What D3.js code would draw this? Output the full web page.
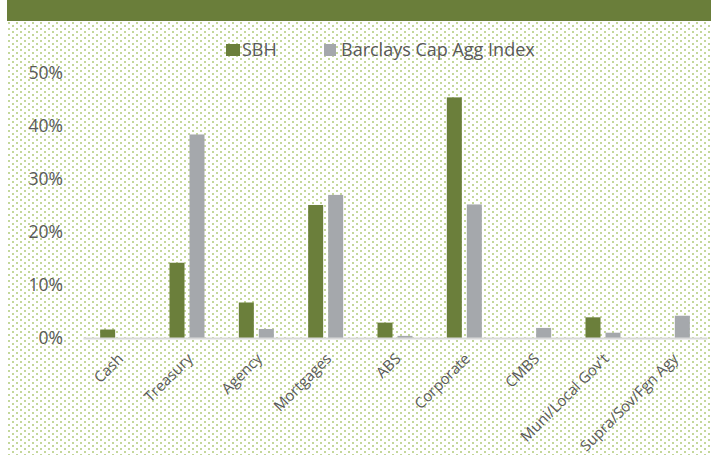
<!DOCTYPE html>
<html><head><meta charset="utf-8">
<script src="https://cdn.jsdelivr.net/npm/d3@7"></script>
<style>html,body{margin:0;padding:0;background:#fff;}svg{display:block;}</style>
</head><body>
<script>
const categories = ["Cash","Treasury","Agency","Mortgages","ABS","Corporate","CMBS","Muni/Local Gov't","Supra/Sov/Fgn Agy"];
const seriesNames = ["SBH","Barclays Cap Agg Index"];
const sbh = [1.6,14.2,6.7,25.1,2.9,45.4,0,3.9,0];
const barclays = [0,38.4,1.7,27.0,0.4,25.2,1.9,1.0,4.2];
const yTicks = [0,10,20,30,40,50];
const colors = ["#6b7f3b","#a5a8ac"];

const W=711,H=455;
const svg=d3.select("body").append("svg").attr("width",W).attr("height",H);
const defs=svg.append("defs");
const pat=defs.append("pattern").attr("id","dots").attr("patternUnits","userSpaceOnUse")
  .attr("width",8).attr("height",6).attr("x",7).attr("y",21);
pat.append("rect").attr("x",0).attr("y",0).attr("width",8).attr("height",6).attr("fill","#fff");
pat.append("rect").attr("x",1).attr("y",1).attr("width",2).attr("height",2).attr("fill","#c4d79b");
pat.append("rect").attr("x",5).attr("y",4).attr("width",2).attr("height",2).attr("fill","#c4d79b");

svg.append("rect").attr("x",7).attr("y",21).attr("width",W-7).attr("height",H-21).attr("fill","url(#dots)");
svg.append("rect").attr("x",7).attr("y",0).attr("width",W-7).attr("height",21).attr("fill","#6a7e3a");

const x=d3.scaleBand().domain(categories).range([83,707]);
const y=d3.scaleLinear().domain([0,50]).range([338,73]);
const font="Open Sans, sans-serif";

// y axis labels
const yAxis=d3.axisLeft(y).tickValues(yTicks).tickFormat(d=>d+"%").tickSize(0).tickPadding(0);
const gy=svg.append("g").attr("transform","translate(63,0)").call(yAxis);
gy.select(".domain").remove();
gy.selectAll("text").attr("fill","#595959").style("font-family",font).style("font-size","17.5px");

// bars
const bw=15, off=10;
const g=svg.append("g");
[sbh,barclays].forEach((vals,si)=>{
  g.selectAll(".b"+si).data(categories.map((c,i)=>({c,v:vals[i]}))).enter().append("rect")
    .attr("x",d=>x(d.c)+x.bandwidth()/2+(si===0?-off:off)-bw/2)
    .attr("y",d=>y(d.v)).attr("width",bw).attr("height",d=>y(0)-y(d.v))
    .attr("fill",colors[si]);
});

// x axis
const xAxis=d3.axisBottom(x).tickSize(0).tickPadding(0);
const gx=svg.append("g").attr("transform","translate(0,338)").call(xAxis);
gx.select(".domain").attr("stroke","#d9d9d9").attr("stroke-width",2);
gx.selectAll("text").attr("fill","#595959").style("font-family",font).style("font-size","15px")
  .attr("text-anchor","end").attr("dy","0.35em")
  .attr("transform","translate(3,18) rotate(-45)").attr("y",0).attr("x",0);

// legend
const leg=svg.append("g");
const legX=[226,324];
seriesNames.forEach((n,i)=>{
  leg.append("rect").attr("x",legX[i]).attr("y",44).attr("width",i===0?14:12).attr("height",12).attr("fill",colors[i]);
  leg.append("text").attr("x",legX[i]+(i===0?16:17)).attr("y",50).attr("dy","0.35em").attr("fill","#595959")
    .style("font-family",font).style("font-size","18px").text(n);
});
</script>
</body></html>
